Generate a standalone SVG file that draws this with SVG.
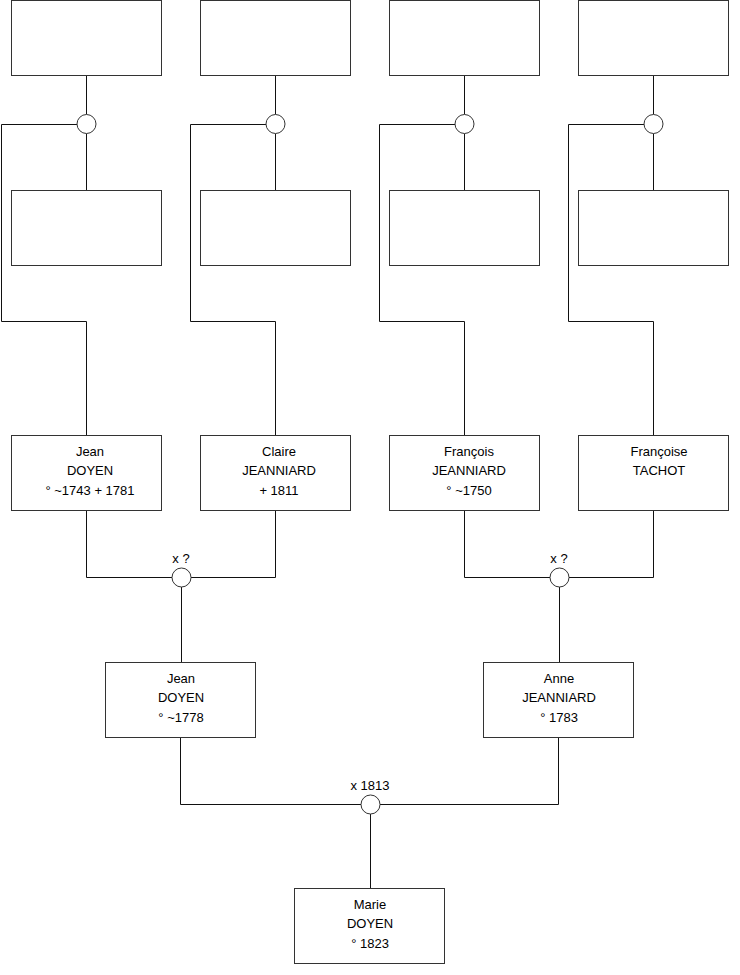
<svg xmlns="http://www.w3.org/2000/svg" width="740" height="975" viewBox="0 0 740 975">
<style>
.box{fill:#fff;stroke:#333;stroke-width:1}
.ring{fill:#fff;stroke:#333;stroke-width:1}
.wire{fill:none;stroke:#111;stroke-width:1}
text{font-family:"Liberation Sans",Arial,sans-serif;font-size:13px;fill:#000;text-anchor:middle}
</style>
<rect width="740" height="975" fill="#fff"/>
<g id="connectors">
<path class="wire" d="M86.5,75.5V114.5M86.5,133.5V190.5M77,124.5H1.5V321.5H86.5V435.5"/>
<path class="wire" d="M275.5,75.5V114.5M275.5,133.5V190.5M266,124.5H190.5V321.5H275.5V435.5"/>
<path class="wire" d="M464.5,75.5V114.5M464.5,133.5V190.5M455,124.5H379.5V321.5H464.5V435.5"/>
<path class="wire" d="M653.5,75.5V114.5M653.5,133.5V190.5M644,124.5H568.5V321.5H653.5V435.5"/>
<path class="wire" d="M86.5,510.5V577.5H172M275.5,510.5V577.5H191M181.5,587V662.5"/>
<path class="wire" d="M464.5,510.5V577.5H550M653.5,510.5V577.5H569M559.5,587V662.5"/>
<path class="wire" d="M180.5,737.5V804.5H361M558.5,737.5V804.5H380M370.5,814V888.5"/>
</g>
<g id="gp1"><rect class="box" x="11.5" y="0.5" width="150" height="75"/></g>
<g id="gp2"><rect class="box" x="200.5" y="0.5" width="150" height="75"/></g>
<g id="gp3"><rect class="box" x="389.5" y="0.5" width="150" height="75"/></g>
<g id="gp4"><rect class="box" x="578.5" y="0.5" width="150" height="75"/></g>
<g id="gm1"><rect class="box" x="11.5" y="190.5" width="150" height="75"/></g>
<g id="gm2"><rect class="box" x="200.5" y="190.5" width="150" height="75"/></g>
<g id="gm3"><rect class="box" x="389.5" y="190.5" width="150" height="75"/></g>
<g id="gm4"><rect class="box" x="578.5" y="190.5" width="150" height="75"/></g>
<g id="u1"><circle class="ring" cx="86.5" cy="124" r="9.5"/></g>
<g id="u2"><circle class="ring" cx="275.5" cy="124" r="9.5"/></g>
<g id="u3"><circle class="ring" cx="464.5" cy="124" r="9.5"/></g>
<g id="u4"><circle class="ring" cx="653.5" cy="124" r="9.5"/></g>
<g id="jean-doyen-1743"><rect class="box" x="11.5" y="435.5" width="150" height="75"/>
<text x="90" y="456">Jean</text><text x="90" y="475">DOYEN</text><text x="90" y="495">° ~1743 + 1781</text></g>
<g id="claire-jeanniard"><rect class="box" x="200.5" y="435.5" width="150" height="75"/>
<text x="279" y="456">Claire</text><text x="279" y="475">JEANNIARD</text><text x="279" y="495">+ 1811</text></g>
<g id="francois-jeanniard"><rect class="box" x="389.5" y="435.5" width="150" height="75"/>
<text x="469" y="456">François</text><text x="469" y="475">JEANNIARD</text><text x="469" y="495">° ~1750</text></g>
<g id="francoise-tachot"><rect class="box" x="578.5" y="435.5" width="150" height="75"/>
<text x="659" y="456">Françoise</text><text x="659" y="475">TACHOT</text></g>
<g id="u5"><circle class="ring" cx="181.5" cy="577.5" r="9.5"/><text x="181" y="563">x ?</text></g>
<g id="u6"><circle class="ring" cx="559.5" cy="577.5" r="9.5"/><text x="559" y="563">x ?</text></g>
<g id="jean-doyen-1778"><rect class="box" x="105.5" y="662.5" width="150" height="75"/>
<text x="181" y="683">Jean</text><text x="181" y="702">DOYEN</text><text x="181" y="722">° ~1778</text></g>
<g id="anne-jeanniard"><rect class="box" x="483.5" y="662.5" width="150" height="75"/>
<text x="559" y="683">Anne</text><text x="559" y="702">JEANNIARD</text><text x="559" y="722">° 1783</text></g>
<g id="u7"><circle class="ring" cx="370.5" cy="804.5" r="9.5"/><text x="370" y="790">x 1813</text></g>
<g id="marie-doyen"><rect class="box" x="294.5" y="888.5" width="150" height="75"/>
<text x="370" y="909">Marie</text><text x="370" y="928">DOYEN</text><text x="370" y="948">° 1823</text></g>
</svg>
